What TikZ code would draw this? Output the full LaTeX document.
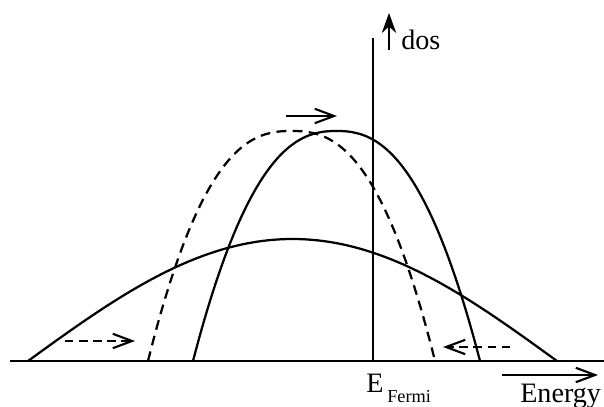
\documentclass[tikz,border=0pt]{standalone}
\usepackage{fontspec}
\setmainfont{Liberation Serif}
\usetikzlibrary{arrows.meta}
\tikzset{
  axisline/.style={line width=1.8pt},
  band/.style={line width=1.6pt, samples=100, domain=-1:1},
  dband/.style={band, dash pattern=on 7pt off 4.5pt},
  mv/.style={line width=1.6pt, -{Straight Barb[length=4.8mm,width=3.6mm,line width=1.5pt]}},
  dmv/.style={mv, dash pattern=on 6pt off 4pt},
  lbl/.style={font=\fontsize{20}{24}\selectfont, inner sep=0pt, anchor=base west},
  sublbl/.style={font=\fontsize{13}{15}\selectfont, inner sep=0pt, anchor=base west}
}

\begin{document}
\begin{tikzpicture}[x=0.025cm, y=0.025cm]
  \useasboundingbox (0,-46) rectangle (604,361);
  % axes
  \coordinate (o1) at (10,0);   \coordinate (o2) at (604,0);
  \coordinate (ef) at (373,0);  \coordinate (eftop) at (373,323);
  \draw[axisline] (o1) -- (o2);
  \draw[axisline] (ef) -- (eftop);
  % densities of states
  \draw[band] plot ({292.5+264.5*\x},{122*cos(90*\x)});
  \draw[band] plot ({336.5+143.5*\x},{230*(1-abs(\x)^2.4)});
  \draw[dband] plot ({291.5+143.5*\x},{230*(1-abs(\x)^2.5)});
  % shifts
  \coordinate (l1) at (65,20);   \coordinate (l2) at (135,20);
  \coordinate (r1) at (510,14);  \coordinate (r2) at (443,14);
  \coordinate (t1) at (286,245); \coordinate (t2) at (337,245);
  \draw[dmv] (l1) -- (l2);
  \draw[dmv] (r1) -- (r2);
  \draw[mv] (t1) -- (t2);
  % labels
  \node[lbl] (dos) at (401,311) {dos};
  \coordinate (d1) at (389,311); \coordinate (d2) at (389,348);
  \draw[line width=1.5pt, -{Stealth[length=5mm,width=3.6mm]}] (d1) -- (d2);
  \node[lbl] (efermi) at (366,-31) {E};
  \node[sublbl] (fermi) at (387,-42) {Fermi};
  \node[lbl] (energy) at (520,-42) {Energy};
  \coordinate (e1) at (502,-14); \coordinate (e2) at (598,-14);
  \draw[mv] (e1) -- (e2);
\end{tikzpicture}
\end{document}
